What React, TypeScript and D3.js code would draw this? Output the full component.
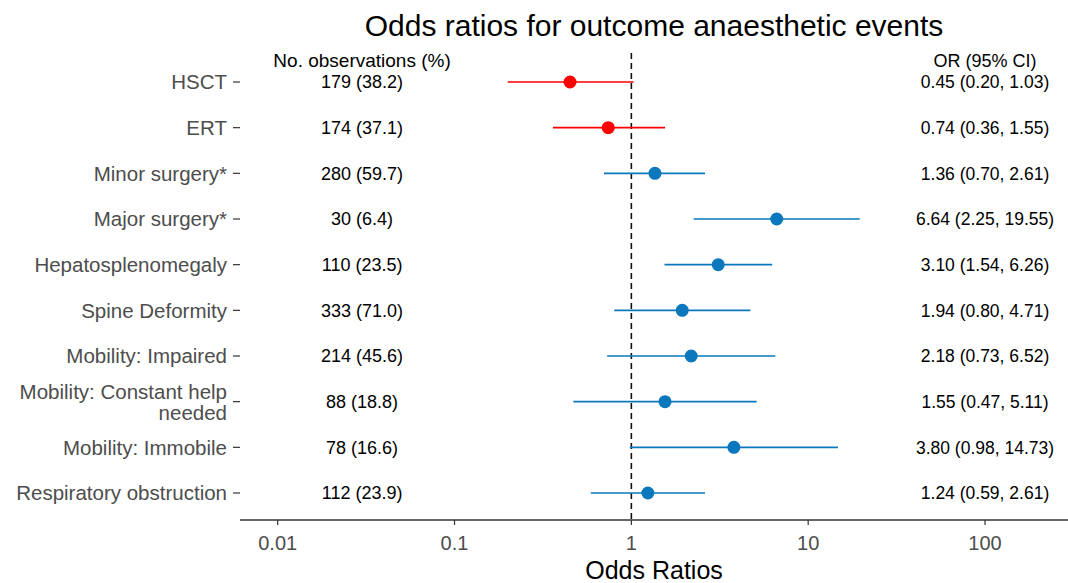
import React, { useEffect, useRef } from 'react';
import * as d3 from 'd3';

// forest plot data, top to bottom
const labels = [
  'HSCT',
  'ERT',
  'Minor surgery*',
  'Major surgery*',
  'Hepatosplenomegaly',
  'Spine Deformity',
  'Mobility: Impaired',
  'Mobility: Constant help needed',
  'Mobility: Immobile',
  'Respiratory obstruction',
];
const oddsRatio = [0.45, 0.74, 1.36, 6.64, 3.10, 1.94, 2.18, 1.55, 3.80, 1.24];
const lowerCI = [0.20, 0.36, 0.70, 2.25, 1.54, 0.80, 0.73, 0.47, 0.98, 0.59];
const upperCI = [1.03, 1.55, 2.61, 19.55, 6.26, 4.71, 6.52, 5.11, 14.73, 2.61];
const nObs = [179, 174, 280, 30, 110, 333, 214, 88, 78, 112];
const pctObs = [38.2, 37.1, 59.7, 6.4, 23.5, 71.0, 45.6, 18.8, 16.6, 23.9];
const groups = ['treatment', 'treatment', 'other', 'other', 'other', 'other', 'other', 'other', 'other', 'other'];
const xTicks = [0.01, 0.1, 1, 10, 100];

const FONT = '"Liberation Sans", Arial, sans-serif';

const App = () => {
  const ref = useRef<SVGSVGElement | null>(null);

  useEffect(() => {
    document.body.style.margin = '0';
    if (!ref.current) return;
    const svg = d3.select(ref.current);
    svg.selectAll('*').remove();

    const width = 1068, height = 583;
    const panelLeft = 240, panelRight = 1068, axisY = 520;

    const x = d3.scaleLog().domain([0.01, 100]).range([277.7, 985]);
    const y = d3.scalePoint<string>().domain(labels).range([82, 493]);
    const color = d3.scaleOrdinal<string, string>()
      .domain(['treatment', 'other'])
      .range(['#ff0000', '#0b78bd']);

    const rows = labels.map((l, i) => ({
      label: l, or: oddsRatio[i], lo: lowerCI[i], hi: upperCI[i],
      n: nObs[i], pct: pctObs[i], group: groups[i],
    }));

    svg.attr('width', width).attr('height', height).style('font-family', FONT);
    svg.append('rect').attr('width', width).attr('height', height).attr('fill', '#fff');

    // title
    svg.append('text')
      .attr('x', (panelLeft + panelRight) / 2).attr('y', 36)
      .attr('text-anchor', 'middle').attr('font-size', 30).attr('fill', '#000')
      .text('Odds ratios for outcome anaesthetic events');

    // reference line at OR = 1
    svg.append('line')
      .attr('x1', x(1)).attr('x2', x(1)).attr('y1', 53).attr('y2', axisY)
      .attr('stroke', '#111').attr('stroke-width', 1.6).attr('stroke-dasharray', '6,4');

    // confidence intervals
    svg.append('g').selectAll('line').data(rows).enter().append('line')
      .attr('x1', d => x(d.lo)).attr('x2', d => x(d.hi))
      .attr('y1', d => y(d.label)!).attr('y2', d => y(d.label)!)
      .attr('stroke', d => color(d.group)).attr('stroke-width', 1.6);

    // point estimates
    svg.append('g').selectAll('circle').data(rows).enter().append('circle')
      .attr('cx', d => x(d.or)).attr('cy', d => y(d.label)!).attr('r', 6.5)
      .attr('fill', d => color(d.group));

    // column headers
    svg.append('text').attr('x', x(0.03)).attr('y', 67)
      .attr('text-anchor', 'middle').attr('font-size', 19).attr('fill', '#000')
      .text('No. observations (%)');
    svg.append('text').attr('x', x(100)).attr('y', 67)
      .attr('text-anchor', 'middle').attr('font-size', 18).attr('fill', '#000')
      .text('OR (95% CI)');

    // columns of values
    svg.append('g').selectAll('text').data(rows).enter().append('text')
      .attr('x', x(0.03)).attr('y', d => y(d.label)!).attr('dy', '0.36em')
      .attr('text-anchor', 'middle').attr('font-size', 18).attr('fill', '#000')
      .text(d => `${d.n} (${d.pct.toFixed(1)})`);
    svg.append('g').selectAll('text').data(rows).enter().append('text')
      .attr('x', x(100)).attr('y', d => y(d.label)!).attr('dy', '0.36em')
      .attr('text-anchor', 'middle').attr('font-size', 17.5).attr('fill', '#000')
      .text(d => `${d.or.toFixed(2)} (${d.lo.toFixed(2)}, ${d.hi.toFixed(2)})`);

    // y axis labels and ticks
    const yAxis = svg.append('g');
    rows.forEach(d => {
      const yy = y(d.label)!;
      yAxis.append('line').attr('x1', 233).attr('x2', 240).attr('y1', yy).attr('y2', yy)
        .attr('stroke', '#333').attr('stroke-width', 1.2);
      const lines = d.label === 'Mobility: Constant help needed'
        ? ['Mobility: Constant help', 'needed'] : [d.label];
      const lh = 21;
      const t = yAxis.append('text').attr('text-anchor', 'end').attr('font-size', 20.5)
        .attr('fill', '#4d4d4d');
      lines.forEach((ln, j) => {
        t.append('tspan').attr('x', 227)
          .attr('y', yy + (j - (lines.length - 1) / 2) * lh).attr('dy', '0.36em').text(ln);
      });
    });

    // x axis
    const xAxis = svg.append('g');
    xAxis.append('line').attr('x1', panelLeft).attr('x2', panelRight)
      .attr('y1', axisY).attr('y2', axisY).attr('stroke', '#333').attr('stroke-width', 1.6);
    xTicks.forEach(t => {
      xAxis.append('line').attr('x1', x(t)).attr('x2', x(t)).attr('y1', axisY).attr('y2', axisY + 5)
        .attr('stroke', '#333').attr('stroke-width', 1.2);
      xAxis.append('text').attr('x', x(t)).attr('y', 550)
        .attr('text-anchor', 'middle').attr('font-size', 20).attr('fill', '#4d4d4d')
        .text(String(t));
    });
    svg.append('text').attr('x', (panelLeft + panelRight) / 2).attr('y', 579)
      .attr('text-anchor', 'middle').attr('font-size', 25).attr('fill', '#000')
      .text('Odds Ratios');
  }, []);

  return <svg ref={ref} style={{ display: 'block' }}></svg>;
};

export default App;
